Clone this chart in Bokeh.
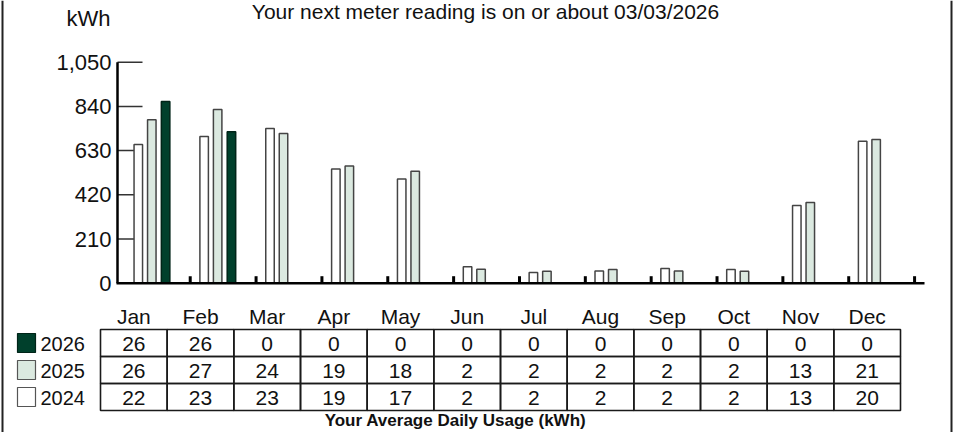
from bokeh.plotting import figure
from bokeh.models import Range1d, ColumnDataSource
from bokeh.core.properties import value
from bokeh.embed import file_html
from bokeh.resources import INLINE

# ---------------- data ----------------
months = ["Jan", "Feb", "Mar", "Apr", "May", "Jun", "Jul", "Aug", "Sep", "Oct", "Nov", "Dec"]
years = ["2026", "2025", "2024"]
kwh_2024 = [659, 697, 735, 542, 495, 78, 51, 58, 70, 65, 369, 675]
kwh_2025 = [776, 825, 711, 557, 532, 66, 57, 65, 58, 57, 383, 683]
kwh_2026 = [863, 719, 0, 0, 0, 0, 0, 0, 0, 0, 0, 0]
avg_2026 = [26, 26, 0, 0, 0, 0, 0, 0, 0, 0, 0, 0]
avg_2025 = [26, 27, 24, 19, 18, 2, 2, 2, 2, 2, 13, 21]
avg_2024 = [22, 23, 23, 19, 17, 2, 2, 2, 2, 2, 13, 20]
y_ticks = [0, 210, 420, 630, 840, 1050]
y_tick_labels = ["0", "210", "420", "630", "840", "1,050"]
title_text = "Your next meter reading is on or about 03/03/2026"
unit_text = "kWh"
footer_text = "Your Average Daily Usage (kWh)"

# ---------------- layout ----------------
W, H = 953, 432
SLOT_C0, SLOT_W = 156.8, 65.85     # month slot centre / width (px)
Y0_PX, KWH_PX = 282.7, 221.0 / 1050.0
TAB_X0, TAB_CW = 100.0, 800.0 / 12
AX_LEFT, AX_RIGHT = 117.0, 924.0

FONT = value("Liberation Sans")

col_2026 = "#00402c"
col_2025 = "#dbe9e0"
col_2024 = "#ffffff"

x_mon = Range1d((0 - SLOT_C0) / SLOT_W, (W - SLOT_C0) / SLOT_W)
y_kwh = Range1d((Y0_PX - H) / KWH_PX, Y0_PX / KWH_PX)

p = figure(width=W, height=H, output_backend="svg", toolbar_location=None,
           x_range=x_mon, y_range=y_kwh, min_border=0,
           x_axis_type=None, y_axis_type=None)
p.outline_line_color = None
p.background_fill_color = "white"
p.border_fill_color = "white"
p.extra_x_ranges = {
    "px": Range1d(0, W),
    "tab": Range1d((0 - TAB_X0) / TAB_CW, (W - TAB_X0) / TAB_CW),
}
p.extra_y_ranges = {"py": Range1d(H, 0)}

# outer frame lines (left / right)
p.segment(x0=[2, W - 2], y0=[0, 0], x1=[2, W - 2], y1=[H, H],
          x_range_name="px", y_range_name="py", line_color="#222222", line_width=2)

# title and unit
p.text(x=[485], y=[-1], text=[title_text], x_range_name="px", y_range_name="py",
       text_font=FONT, text_font_size="21px", text_align="center", text_baseline="top",
       text_color="#111111")
p.text(x=[88], y=[17.5], text=[unit_text], x_range_name="px", y_range_name="py",
       text_font=FONT, text_font_size="22px", text_align="center", text_baseline="middle",
       text_color="#111111")

# y ticks (inward) and labels
tick_src = ColumnDataSource(dict(y=y_ticks, lab=y_tick_labels,
                                 x0=[AX_LEFT] * len(y_ticks), x1=[AX_LEFT + 25] * len(y_ticks),
                                 xl=[AX_LEFT - 6] * len(y_ticks)))
p.segment(x0="x0", y0="y", x1="x1", y1="y", source=tick_src, x_range_name="px",
          line_color="#333333", line_width=1.5)
p.text(x="xl", y="y", text="lab", source=tick_src, x_range_name="px",
       text_font=FONT, text_font_size="22px", text_align="right", text_baseline="middle",
       text_color="#111111")

# bars
bar_w = 8.5 / SLOT_W
offsets = {"2024": -19.0 / SLOT_W, "2025": -5.5 / SLOT_W, "2026": 8.3 / SLOT_W}
series = [("2024", kwh_2024, col_2024, "#444444"),
          ("2025", kwh_2025, col_2025, "#444444"),
          ("2026", kwh_2026, col_2026, "#002418")]
for yr, vals, fc, lc in series:
    xs = [i + offsets[yr] for i, v in enumerate(vals) if v > 0]
    tops = [v for v in vals if v > 0]
    p.vbar(x=xs, top=tops, bottom=0, width=bar_w, fill_color=fc, line_color=lc, line_width=1.5)

# axes lines
p.segment(x0=[AX_LEFT], y0=[0], x1=[AX_LEFT], y1=[max(y_ticks)], x_range_name="px",
          line_color="black", line_width=2.5)
p.segment(x0=[AX_LEFT - 1], y0=[0], x1=[AX_RIGHT], y1=[0], x_range_name="px",
          line_color="black", line_width=2.5)
# x boundary ticks
bx = [i + 0.5 for i in range(len(months))]
p.segment(x0=bx, y0=[Y0_PX] * len(bx), x1=bx, y1=[Y0_PX - 7] * len(bx), y_range_name="py",
          line_color="black", line_width=3)

# table
row_top = [329.0, 356.0, 383.0]
row_h = 27.0
cells = dict(l=[], r=[], t=[], b=[], x=[], y=[], txt=[])
for r, arr in enumerate([avg_2026, avg_2025, avg_2024]):
    for j, v in enumerate(arr):
        cells["l"].append(j)
        cells["r"].append(j + 1)
        cells["t"].append(row_top[r])
        cells["b"].append(row_top[r] + row_h)
        cells["x"].append(j + 0.5)
        cells["y"].append(row_top[r] + row_h / 2 + 1)
        cells["txt"].append(str(v))
cell_src = ColumnDataSource(cells)
p.quad(left="l", right="r", top="t", bottom="b", source=cell_src, x_range_name="tab",
       y_range_name="py", fill_color=None, line_color="#1a1a1a", line_width=1.6)
p.text(x="x", y="y", text="txt", source=cell_src, x_range_name="tab", y_range_name="py",
       text_font=FONT, text_font_size="21px", text_align="center", text_baseline="middle",
       text_color="#111111")

# month labels
p.text(x=[j + 0.5 for j in range(len(months))], y=[316] * len(months), text=months,
       x_range_name="tab", y_range_name="py", text_font=FONT, text_font_size="21px",
       text_align="center", text_baseline="middle", text_color="#111111")

# legend
leg_y = [t + row_h / 2 for t in row_top]
p.rect(x=[26] * 3, y=leg_y, width=18, height=19, x_range_name="px", y_range_name="py",
       fill_color=[col_2026, col_2025, col_2024], line_color=["#002418", "#555555", "#555555"],
       line_width=1.2)
p.text(x=[40] * 3, y=[v + 1 for v in leg_y], text=years, x_range_name="px", y_range_name="py",
       text_font=FONT, text_font_size="20px", text_align="left", text_baseline="middle",
       text_color="#111111")

# footer
p.text(x=[455], y=[429], text=[footer_text], x_range_name="px", y_range_name="py",
       text_font=FONT, text_font_size="17px", text_font_style="bold", text_align="center",
       text_baseline="bottom", text_color="#111111")

open("out.html", "w").write(file_html(p, INLINE))
